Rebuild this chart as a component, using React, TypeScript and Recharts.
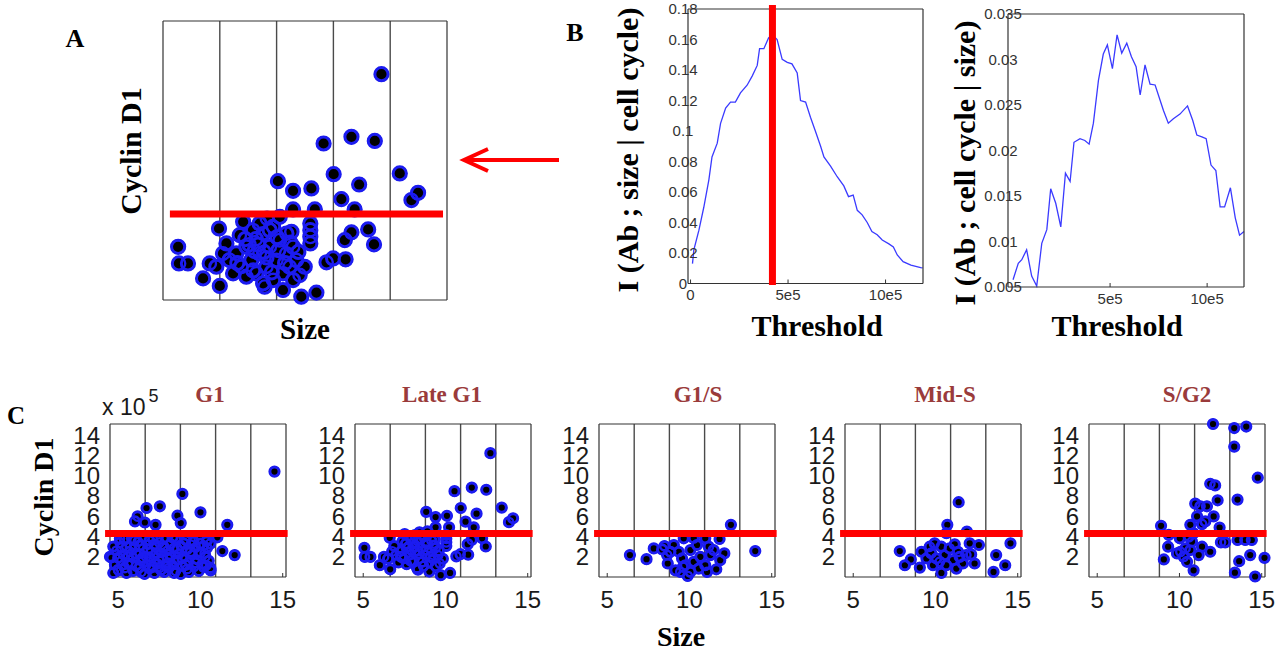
import React from 'react';
import { ScatterChart, Scatter, LineChart, Line, XAxis, YAxis, ReferenceLine } from 'recharts';

// ---------- shared axis values (panels A and C) ----------
const SIZE_DOMAIN: [number, number] = [4.5, 15.2];
const CYCLIN_DOMAIN: [number, number] = [0, 15.1];
const SIZE_TICKS = [5, 10, 15];
const CYCLIN_TICKS = [2, 4, 6, 8, 10, 12, 14];
const SIZE_BIN_EDGES = [6.64, 8.78, 10.92, 13.06];
const CYCLIN_THRESHOLD_C = 4.3;
const CYCLIN_THRESHOLD_A = 4.65;

const PHASE_TITLES = ['G1', 'Late G1', 'G1/S', 'Mid-S', 'S/G2'];

type Pt = [number, number]; // [size (x1e5), cyclin D1 (x1e5)]

const g1Cells: Pt[] = [
  [14.5, 10.4], [8.9, 8.2], [6.72, 6.81], [7.53, 6.98], [6.18, 5.98], [6.02, 5.48], [6.62, 5.38], [7.27, 5.15],
  [8.6, 6.05], [8.8, 5.32], [10.0, 6.38], [11.63, 5.15], [11.03, 3.92], [11.33, 2.56], [12.08, 2.16], [10.62, 0.66],
  [10.36, 1.16], [10.26, 2.33], [10.36, 3.49], [4.5, 2.0], [5.0, 0.66], [5.1, 3.8],
  [4.6, 1.9], [4.8, 1.2], [4.9, 2.6], [5.0, 0.7], [5.1, 3.4], [5.2, 1.6], [5.3, 2.2], [5.4, 0.9], [5.5, 3.0],
  [5.6, 1.4], [5.7, 2.5], [5.8, 3.8], [5.9, 0.6], [5.9, 1.9], [6.0, 2.9], [6.1, 1.1], [6.2, 3.5], [6.3, 2.3],
  [6.4, 0.5], [6.4, 1.6], [6.5, 2.8], [6.6, 3.9], [6.7, 1.2], [6.7, 2.0], [6.8, 3.2], [6.9, 0.8], [7.0, 2.5],
  [7.0, 1.6], [7.1, 3.7], [7.2, 0.4], [7.2, 2.1], [7.3, 2.9], [7.4, 1.3], [7.5, 3.4], [7.5, 0.9], [7.6, 2.4],
  [7.7, 1.8], [7.8, 3.0], [7.8, 0.5], [7.9, 3.9], [8.0, 1.4], [8.0, 2.6], [8.1, 0.9], [8.2, 3.3], [8.2, 2.0],
  [8.3, 1.2], [8.4, 2.8], [8.5, 0.6], [8.5, 3.7], [8.6, 1.7], [8.7, 2.3], [8.8, 0.3], [8.8, 3.1], [8.9, 1.1],
  [9.0, 2.0], [9.1, 3.6], [9.2, 0.8], [9.2, 2.7], [9.3, 1.5], [9.4, 3.2], [9.5, 2.2], [9.6, 1.0], [9.7, 2.9],
  [9.8, 1.7], [9.9, 3.8], [10.0, 2.4], [10.1, 1.3], [10.2, 3.1], [10.3, 2.0], [10.4, 2.9], [10.5, 1.6],
  [10.6, 3.3], [10.6, 0.9],
  [4.7, 0.4], [4.7, 3.0], [5.0, 1.9], [5.2, 2.9], [5.5, 0.4], [5.6, 2.0], [5.8, 1.3], [6.0, 3.6], [6.1, 2.3],
  [6.3, 0.9], [6.3, 3.1], [6.5, 1.9], [6.6, 0.3], [6.9, 2.0], [6.9, 3.6], [7.1, 1.0], [7.3, 2.4], [7.4, 3.9],
  [7.6, 0.7], [7.7, 2.9], [7.9, 1.1], [8.1, 2.2], [8.3, 3.9], [8.4, 0.4], [8.6, 2.8], [8.9, 1.8], [9.0, 3.3],
  [9.3, 0.5], [9.4, 2.5], [9.6, 3.5], [9.7, 1.4], [9.9, 0.6], [10.0, 3.3], [10.2, 1.0], [10.4, 3.6], [5.4, 3.7],
  [6.8, 2.7], [8.0, 1.9], [9.1, 1.2], [7.2, 3.2],
];

const lateG1Cells: Pt[] = [
  [12.73, 12.22], [10.55, 8.47], [11.6, 8.83], [12.48, 8.61], [13.42, 6.85], [10.93, 6.81], [8.83, 6.43],
  [9.4, 5.91], [10.09, 6.04], [11.89, 6.25], [11.22, 5.46], [13.86, 5.41], [14.11, 5.8], [9.4, 4.9], [10.22, 4.9],
  [11.72, 4.9], [6.61, 3.87], [7.52, 4.23], [8.42, 4.41], [9.34, 3.69], [10.05, 4.14], [10.05, 3.78],
  [10.05, 3.42], [10.05, 3.06], [11.6, 3.66], [11.35, 3.24], [12.23, 3.82], [12.45, 3.01], [10.66, 2.04],
  [10.91, 2.25], [11.38, 2.2], [5.07, 2.88], [5.1, 1.98], [5.44, 1.98], [6.01, 1.17], [6.26, 1.98], [6.64, 0.76],
  [10.28, 0.4], [9.71, 0.18], [9.02, 0.54], [8.33, 0.72], [9.65, 1.35], [9.84, 1.8],
  [6.76, 2.52], [7.01, 2.16], [7.26, 2.52], [7.45, 1.8], [7.64, 2.88], [7.83, 2.16], [8.02, 1.44], [8.14, 2.52],
  [8.27, 3.6], [8.39, 1.8], [8.52, 2.88], [8.65, 3.96], [8.77, 2.16], [8.9, 3.24], [9.02, 1.44], [9.15, 2.52],
  [9.27, 1.8], [9.4, 2.88], [9.52, 2.16], [9.4, 1.08], [8.65, 1.08], [8.27, 0.9], [7.64, 1.26], [7.14, 1.44],
  [6.51, 1.8], [6.89, 3.06], [7.39, 3.51], [7.89, 3.78], [8.14, 4.14], [8.52, 3.78], [8.9, 4.5], [9.15, 3.6],
  [7.75, 3.0], [8.4, 2.3], [8.85, 2.7], [7.95, 2.65], [9.3, 3.1], [8.0, 3.3],
  [7.3, 2.0], [7.9, 1.6], [8.6, 1.5], [9.1, 2.0], [8.3, 2.6], [8.8, 3.4], [7.6, 3.3], [9.6, 2.6], [8.1, 3.0],
];

const g1sCells: Pt[] = [
  [12.52, 5.15], [6.38, 2.16], [7.39, 1.76], [7.83, 2.82], [8.48, 3.06], [8.64, 2.16], [8.68, 1.33], [9.05, 3.16],
  [9.65, 3.82], [10.26, 3.82], [10.96, 3.82], [11.83, 3.75], [12.12, 2.33], [11.87, 1.66], [11.63, 0.76],
  [11.07, 0.5], [9.89, 0.1], [9.45, 0.5], [14.0, 2.56], [9.35, 2.49], [9.55, 1.83], [9.75, 1.16], [10.06, 2.66],
  [10.26, 1.5], [10.56, 0.83], [10.66, 1.99], [10.46, 3.16], [11.17, 2.99], [11.27, 2.16], [10.96, 1.16],
  [11.47, 2.66], [9.61, 1.0], [10.06, 0.5], [9.15, 0.66], [8.84, 2.49], [8.34, 2.72],
];

const midSCells: Pt[] = [
  [11.41, 7.38], [10.72, 5.15], [11.91, 4.49], [7.83, 2.56], [8.5, 1.73], [8.14, 1.16], [9.05, 0.93], [9.15, 2.49],
  [9.65, 2.99], [9.95, 3.32], [10.36, 2.99], [10.56, 2.16], [10.26, 1.5], [10.36, 0.4], [9.85, 1.16], [9.45, 1.83],
  [10.86, 2.82], [11.17, 3.22], [11.37, 2.49], [11.07, 1.66], [11.27, 0.83], [11.67, 1.33], [11.87, 2.16],
  [12.08, 3.32], [12.17, 2.23], [12.38, 1.33], [12.64, 3.16], [13.69, 2.16], [13.53, 0.5], [14.24, 1.16],
  [14.56, 3.32], [10.66, 4.32], [9.75, 2.33], [10.06, 1.83], [11.47, 1.99], [10.66, 1.16],
];

const sG2Cells: Pt[] = [
  [12.04, 15.1], [13.33, 14.7], [14.06, 14.85], [13.33, 12.86], [14.76, 9.8], [11.87, 9.2], [12.17, 9.04],
  [13.53, 7.64], [12.32, 7.57], [10.96, 7.24], [11.27, 6.98], [11.67, 6.98], [12.08, 5.98], [11.07, 5.98],
  [11.37, 5.22], [10.66, 5.15], [8.88, 5.05], [12.44, 4.88], [11.57, 5.48], [9.35, 4.15], [10.86, 4.32],
  [10.02, 3.82], [12.52, 3.42], [12.78, 3.42], [13.53, 3.65], [14.0, 3.65], [14.4, 3.65], [9.31, 2.99],
  [10.06, 2.49], [10.36, 2.82], [9.85, 2.33], [10.26, 1.99], [10.46, 1.5], [10.86, 0.66], [9.05, 1.73],
  [11.37, 2.99], [11.17, 2.16], [11.87, 2.49], [10.66, 2.66], [15.17, 1.89], [14.3, 2.16], [13.63, 1.56],
  [13.37, 0.43], [14.6, 0.05], [10.76, 3.49], [10.56, 3.99],
];

const PHASE_CELLS: Pt[][] = [g1Cells, lateG1Cells, g1sCells, midSCells, sG2Cells];

// ---------- panel B values ----------
const B_THRESHOLDS_LEFT = [
  0.1, 0.17, 0.43, 0.68, 0.94, 1.1, 1.37, 1.54, 1.8, 2.05, 2.3, 2.56, 2.9, 3.16, 3.42, 3.54, 3.76, 4.0, 4.2, 4.44,
  4.7, 4.96, 5.2, 5.47, 5.64, 5.9, 6.15, 6.4, 6.67, 6.84, 7.18, 7.52, 7.86, 8.1, 8.34, 8.55, 8.8, 9.06, 9.3, 9.57,
  9.83, 10.17, 10.4, 10.6, 10.9, 11.3, 11.8, 11.9,
];
const I_SIZE_GIVEN_CYCLE = [
  0.013, 0.022, 0.035, 0.05, 0.068, 0.083, 0.092, 0.105, 0.115, 0.119, 0.119, 0.125, 0.13, 0.136, 0.143, 0.154,
  0.154, 0.161, 0.163, 0.16, 0.147, 0.145, 0.144, 0.138, 0.12, 0.119, 0.109, 0.1, 0.09, 0.083, 0.077, 0.07, 0.064,
  0.057, 0.058, 0.048, 0.045, 0.04, 0.034, 0.032, 0.0285, 0.026, 0.024, 0.0187, 0.0143, 0.012, 0.0104, 0.0102,
];
const B_THRESHOLDS_RIGHT = [
  0.0, 0.27, 0.45, 0.7, 0.96, 1.22, 1.48, 1.74, 1.94, 2.2, 2.46, 2.7, 2.94, 3.14, 3.45, 3.7, 3.92, 4.14, 4.4, 4.65,
  4.86, 5.12, 5.36, 5.6, 5.86, 6.1, 6.34, 6.55, 6.8, 7.06, 7.32, 7.75, 8.0, 8.26, 8.6, 8.99, 9.26, 9.47, 9.73, 9.95,
  10.2, 10.45, 10.67, 10.9, 11.2, 11.45, 11.67, 11.9,
];
const I_CYCLE_GIVEN_SIZE = [
  0.0058, 0.0076, 0.008, 0.0091, 0.0062, 0.0051, 0.0098, 0.0113, 0.0158, 0.0142, 0.0116, 0.0175, 0.0166, 0.0209,
  0.0213, 0.0211, 0.0207, 0.023, 0.0277, 0.0306, 0.0316, 0.029, 0.0327, 0.0307, 0.0318, 0.0303, 0.0292, 0.0261,
  0.0294, 0.0273, 0.0272, 0.0244, 0.023, 0.0235, 0.024, 0.0249, 0.0233, 0.0217, 0.0215, 0.0213, 0.0184, 0.0178,
  0.0138, 0.0138, 0.0159, 0.0126, 0.0107, 0.0111,
];
const B_LEFT_Y_TICKS = [0, 0.02, 0.04, 0.06, 0.08, 0.1, 0.12, 0.14, 0.16, 0.18];
const B_RIGHT_Y_TICKS = [0.005, 0.01, 0.015, 0.02, 0.025, 0.03, 0.035];
const B_LEFT_X_TICKS = [0, 5, 10];
const B_RIGHT_X_TICKS = [5, 10];
const CHOSEN_THRESHOLD = 4.2;

// ---------- styles ----------
const BLUE = '#1c1cf0';
const LINE_BLUE = '#3a3aff';
const RED = '#ff0000';
const TITLE_RED = '#9a3b3b';
const AXIS = '#333333';
const GRID = '#4a4a4a';
const SERIF = '"Liberation Serif", "Times New Roman", serif';
const SANS = '"Liberation Sans", Arial, sans-serif';

const discShape = (r: number) => (p: any) => (
  <circle cx={p.cx} cy={p.cy} r={r} fill="#000" stroke={BLUE} strokeWidth={1.6} />
);
const ringShape = (r: number) => (p: any) => (
  <circle cx={p.cx} cy={p.cy} r={r - 1} fill="none" stroke={BLUE} strokeWidth={2.4} />
);

const Txt = ({ x, y, size, children, vertical = false, color = '#000', family = SERIF, bold = true }: any) => (
  <div
    style={{
      position: 'absolute', left: x, top: y,
      transform: `translate(-50%, -50%)${vertical ? ' rotate(-90deg)' : ''}`,
      fontFamily: family, fontSize: size, fontWeight: bold ? 700 : 400, color,
      whiteSpace: 'nowrap', lineHeight: 1,
    }}
  >
    {children}
  </div>
);

function CellScatter({ pts, plotLeft, plotTop, plotW, plotH, r, labels, threshold, redFrom, redTo }: any) {
  const yAxisW = labels ? 60 : 10;
  const xAxisH = labels ? 45 : 10;
  const mt = 10;
  const mr = 20;
  const rows = pts.map(([size, cyclin]: Pt) => ({ size, cyclin }));
  const tickStyle = { fontSize: 24, fill: '#1a1a1a', fontFamily: SANS };
  return (
    <div style={{ position: 'absolute', left: plotLeft - yAxisW, top: plotTop - mt - 1 }}>
      <ScatterChart width={yAxisW + plotW + 1 + mr} height={mt + 1 + plotH + xAxisH}
        margin={{ top: mt, right: mr, bottom: 0, left: 0 }}>
        <XAxis xAxisId={0} type="number" dataKey="size" domain={SIZE_DOMAIN} ticks={SIZE_TICKS} interval={0}
          height={xAxisH} tickSize={-4} tickMargin={18} tick={labels ? tickStyle : false}
          axisLine={{ stroke: AXIS, strokeWidth: 1.2 }} tickLine={{ stroke: AXIS }} />
        <XAxis xAxisId="top" orientation="top" type="number" domain={SIZE_DOMAIN} height={1}
          tick={false} tickLine={false} axisLine={{ stroke: AXIS, strokeWidth: 1.2 }} />
        <YAxis yAxisId={0} type="number" dataKey="cyclin" domain={CYCLIN_DOMAIN} ticks={CYCLIN_TICKS} interval={0}
          width={yAxisW} tickSize={0} tickMargin={10} tick={labels ? tickStyle : false} tickLine={false}
          axisLine={{ stroke: AXIS, strokeWidth: 1.2 }} />
        <YAxis yAxisId="right" orientation="right" type="number" domain={CYCLIN_DOMAIN} ticks={CYCLIN_TICKS}
          interval={0} width={1} tickSize={-4} tick={false} tickLine={{ stroke: AXIS }}
          axisLine={{ stroke: AXIS, strokeWidth: 1.2 }} />
        {SIZE_BIN_EDGES.map((b) => (
          <ReferenceLine key={b} x={b} stroke={GRID} strokeWidth={1.4} />
        ))}
        <Scatter data={rows} shape={discShape(r)} isAnimationActive={false} />
        <Scatter data={rows} shape={ringShape(r)} isAnimationActive={false} />
        <ReferenceLine segment={[{ x: redFrom, y: threshold }, { x: redTo, y: threshold }]}
          stroke={RED} strokeWidth={7} ifOverflow="visible" zIndex={2000} />
      </ScatterChart>
    </div>
  );
}

function InfoCurve({ t, v, plotLeft, plotTop, plotW, plotH, xDomain, xTicks, yDomain, yTicks, marker }: any) {
  const yAxisW = 40;
  const xAxisH = 40;
  const mr = 12;
  const rows = t.map((x: number, i: number) => ({ t: x, v: v[i] }));
  const tickStyle = { fontSize: 15, fill: '#333', fontFamily: SANS };
  const fmtX = (x: number) => (x === 0 ? '0' : `${x}e5`);
  return (
    <div style={{ position: 'absolute', left: plotLeft - yAxisW, top: 0 }}>
      <LineChart width={yAxisW + plotW + 1 + mr} height={plotTop + plotH + xAxisH} data={rows}
        margin={{ top: plotTop - 1, right: mr, bottom: 0, left: 0 }}>
        <XAxis xAxisId={0} type="number" dataKey="t" domain={xDomain} ticks={xTicks} interval={0}
          tickFormatter={fmtX} height={xAxisH} tickSize={-4} tickMargin={10} tick={tickStyle}
          axisLine={{ stroke: AXIS, strokeWidth: 1.2 }} tickLine={{ stroke: AXIS }} />
        <XAxis xAxisId="top" orientation="top" type="number" domain={xDomain} height={1}
          tick={false} tickLine={false} axisLine={{ stroke: AXIS, strokeWidth: 1.2 }} />
        <YAxis yAxisId={0} type="number" domain={yDomain} ticks={yTicks} interval={0} width={yAxisW}
          tickSize={0} tickMargin={5} tick={{ ...tickStyle, textAnchor: 'middle' }} tickLine={false}
          axisLine={{ stroke: AXIS, strokeWidth: 1.2 }} />
        <YAxis yAxisId="right" orientation="right" type="number" domain={yDomain} ticks={yTicks} interval={0}
          width={1} tickSize={-4} tick={false} tickLine={{ stroke: AXIS }}
          axisLine={{ stroke: AXIS, strokeWidth: 1.2 }} />
        <Line type="linear" dataKey="v" stroke={LINE_BLUE} strokeWidth={1.3} dot={false} isAnimationActive={false} />
        {marker !== undefined && (
          <ReferenceLine segment={[{ x: marker, y: -0.001 }, { x: marker, y: 0.1826 }]}
            stroke={RED} strokeWidth={7} ifOverflow="visible" zIndex={2000} />
        )}
      </LineChart>
    </div>
  );
}

const PANEL_LEFTS = [110, 355, 599, 845, 1089];
const TITLE_CENTERS = [210, 442, 698, 945, 1187];

export default function App() {
  return (
    <div style={{ position: 'absolute', left: 0, top: 0, width: 1285, height: 651, background: '#fff', overflow: 'hidden' }}>
      {/* Panel A */}
      <CellScatter pts={lateG1Cells} plotLeft={163} plotTop={21} plotW={284} plotH={279} r={7.3} labels={false}
        threshold={CYCLIN_THRESHOLD_A} redFrom={4.76} redTo={15.05} />
      <Txt x={75} y={39} size={26}>A</Txt>
      <Txt x={131} y={151} size={30} vertical>Cyclin D1</Txt>
      <Txt x={305} y={329} size={29}>Size</Txt>
      <svg style={{ position: 'absolute', left: 455, top: 145 }} width={110} height={30}>
        <line x1={12} y1={15} x2={104} y2={15} stroke={RED} strokeWidth={4} />
        <polyline points="33,4 9,15 33,26" fill="none" stroke={RED} strokeWidth={4} />
      </svg>

      {/* Panel B */}
      <InfoCurve t={B_THRESHOLDS_LEFT} v={I_SIZE_GIVEN_CYCLE} plotLeft={688} plotTop={9} plotW={235} plotH={274.5}
        xDomain={[-0.13, 11.92]} xTicks={B_LEFT_X_TICKS} yDomain={[0, 0.18]} yTicks={B_LEFT_Y_TICKS}
        marker={CHOSEN_THRESHOLD} />
      <InfoCurve t={B_THRESHOLDS_RIGHT} v={I_CYCLE_GIVEN_SIZE} plotLeft={1008} plotTop={14} plotW={236} plotH={273}
        xDomain={[-0.26, 11.9]} xTicks={B_RIGHT_X_TICKS} yDomain={[0.005, 0.035]} yTicks={B_RIGHT_Y_TICKS} />
      <Txt x={575} y={33} size={26}>B</Txt>
      <Txt x={628} y={150} size={30} vertical>I (Ab ; size | cell cycle)</Txt>
      <Txt x={965} y={163} size={30} vertical>I (Ab ; cell cycle | size)</Txt>
      <Txt x={817} y={326} size={30}>Threshold</Txt>
      <Txt x={1117} y={326} size={30}>Threshold</Txt>

      {/* Panel C */}
      {PHASE_CELLS.map((pts, i) => (
        <CellScatter key={PHASE_TITLES[i]} pts={pts} plotLeft={PANEL_LEFTS[i]} plotTop={424} plotW={176} plotH={153}
          r={5.3} labels threshold={CYCLIN_THRESHOLD_C} redFrom={4.2} redTo={15.3} />
      ))}
      {PHASE_TITLES.map((title, i) => (
        <Txt key={title} x={TITLE_CENTERS[i]} y={394} size={23} color={TITLE_RED}>{title}</Txt>
      ))}
      <Txt x={16} y={415} size={25}>C</Txt>
      <div style={{ position: 'absolute', left: 102, top: 396, fontFamily: SANS, fontSize: 23, color: '#1a1a1a', whiteSpace: 'nowrap', lineHeight: 1 }}>
        x 10<span style={{ position: 'relative', top: -13, fontSize: 18, marginLeft: 3 }}>5</span>
      </div>
      <Txt x={44} y={497} size={28} vertical>Cyclin D1</Txt>
      <Txt x={681} y={637} size={28}>Size</Txt>
    </div>
  );
}
